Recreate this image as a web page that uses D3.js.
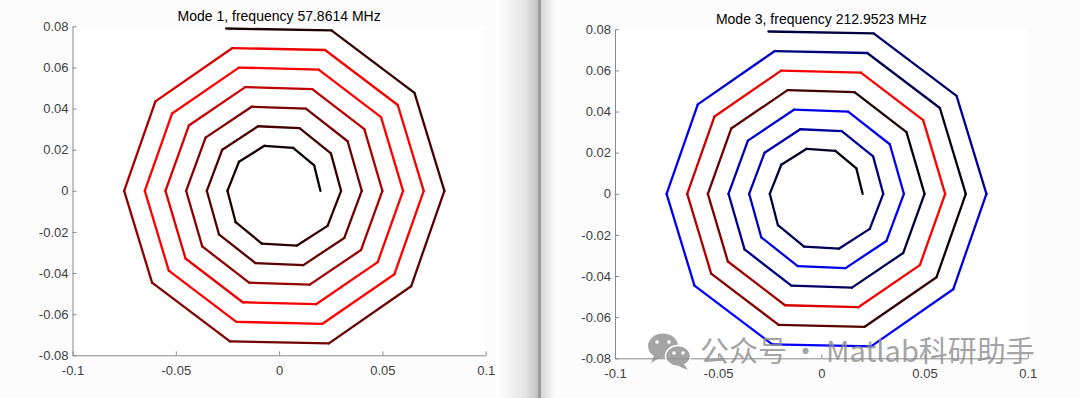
<!DOCTYPE html>
<html>
<head>
<meta charset="utf-8">
<script src="https://cdn.jsdelivr.net/npm/d3@7"></script>
<style>
  body { margin: 0; background: #fcfcfc; }
  svg { display: block; font-family: "Liberation Sans", Arial, sans-serif; }
  .tick text { fill: #3c3c3c; font-size: 13px; }
  .domain, .tick line { stroke: #8a8a8a; }
  .title { font-size: 14px; fill: #000; }
</style>
</head>
<body>
<svg width="1080" height="398"></svg>
<script>
var width = 1080;
var height = 398;

// chart data
var titles = ["Mode 1, frequency 57.8614 MHz", "Mode 3, frequency 212.9523 MHz"];

// current along the winding, one value per segment, inner end first (+ red, - blue)
var mode1Current = [
  .02, .04, .06, .08, .10, .12, .14, .16, .18, .20,
  .22, .25, .27, .29, .31, .33, .35, .37, .39, .41,
  .44, .47, .49, .51, .53, .55, .57, .59, .62, .65,
  .68, .72, .76, .80, .85, .89, .93, .96, .98, 1,
  1, 1, 1, 1, 1, 1, 1, 1, 1, 1,
  .98, .96, .93, .84, .66, .57, .50, .45, .40, .35,
  .28, .20, .12];

var mode3Current = [
  -.03, -.07, -.12, -.17, -.22, -.27, -.31, -.35, -.40, -.45,
  -.50, -.56, -.62, -.68, -.74, -.80, -.85, -.90, -.94, -.97,
  -.97, -.95, -.90, -.82, -.70, -.58, -.50, -.40, -.32, -.22,
  -.05, .10, .25, .35, .42, .50, .65, .85, .95, 1,
  1, 1, .98, .92, .80, .70, .52, .35, .20, .05,
  -.10, -.30, -.50, -.80, -.95, -.98, -1, -1, -.95, -.85,
  -.60, -.40, -.25];

var xTicks = [-0.1, -0.05, 0, 0.05, 0.1];
var xTickLabels = ["-0.1", "-0.05", "0", "0.05", "0.1"];
var yTicks = [-0.08, -0.06, -0.04, -0.02, 0, 0.02, 0.04, 0.06, 0.08];
var yTickLabels = ["-0.08", "-0.06", "-0.04", "-0.02", "0", "0.02", "0.04", "0.06", "0.08"];

// winding layout: decagon spiral
var sides = 10;
var innerRadius = 0.02;
var pitch = 0.01;   // radius gain per turn
var segments = mode1Current.length;

var svg = d3.select("svg");

// window edge between the two figures
var defs = svg.append("defs");
var g1 = defs.append("linearGradient").attr("id", "edgeL");
g1.append("stop").attr("offset", "0%").attr("stop-color", "#ffffff");
g1.append("stop").attr("offset", "70%").attr("stop-color", "#e4e4e4");
g1.append("stop").attr("offset", "100%").attr("stop-color", "#c2c2c2");
var g2 = defs.append("linearGradient").attr("id", "edgeR");
g2.append("stop").attr("offset", "0%").attr("stop-color", "#d6d6d6");
g2.append("stop").attr("offset", "100%").attr("stop-color", "#fcfcfc");

svg.append("rect").attr("x", 496).attr("y", 0).attr("width", 42).attr("height", height).attr("fill", "url(#edgeL)");
svg.append("rect").attr("x", 538).attr("y", 0).attr("width", 3).attr("height", height).attr("fill", "#9c9c9c");
svg.append("rect").attr("x", 541).attr("y", 0).attr("width", 14).attr("height", height).attr("fill", "url(#edgeR)");

var color = d3.scaleLinear()
    .domain([-1, 0, 1])
    .range(["#0000ff", "#000000", "#ff0000"]);

var vertices = d3.range(segments + 1).map(function(k) {
  var a = 2 * Math.PI * k / sides;
  var r = innerRadius + pitch * k / sides;
  return [r * Math.cos(a), r * Math.sin(a)];
});

var panels = [
  {x0: 72.5, x1: 485.7, y0: 355.3, y1: 26.3, titleY: 21, current: mode1Current},
  {x0: 615, x1: 1027.7, y0: 358.3, y1: 29.3, titleY: 24, current: mode3Current}
];

panels.forEach(function(p, i) {
  var x = d3.scaleLinear().domain([-0.1, 0.1]).range([p.x0, p.x1]);
  var y = d3.scaleLinear().domain([-0.08, 0.08]).range([p.y0, p.y1]);

  var g = svg.append("g");

  g.append("rect")
      .attr("x", p.x0).attr("y", p.y1)
      .attr("width", p.x1 - p.x0).attr("height", p.y0 - p.y1)
      .attr("fill", "#fff");

  g.append("g")
      .attr("transform", "translate(0," + p.y0 + ")")
      .call(d3.axisBottom(x).tickValues(xTicks)
        .tickFormat(function(d, j) { return xTickLabels[j]; })
        .tickSizeInner(-4).tickSizeOuter(0).tickPadding(10));

  g.append("g")
      .attr("transform", "translate(" + p.x0 + ",0)")
      .call(d3.axisLeft(y).tickValues(yTicks)
        .tickFormat(function(d, j) { return yTickLabels[j]; })
        .tickSizeInner(-4).tickSizeOuter(0).tickPadding(4));

  g.selectAll(".tick text").attr("font-family", null).attr("font-size", null);

  g.selectAll(".seg")
      .data(p.current)
      .enter()
      .append("line")
      .attr("class", "seg")
      .attr("x1", function(d, k) { return x(vertices[k][0]); })
      .attr("y1", function(d, k) { return y(vertices[k][1]); })
      .attr("x2", function(d, k) { return x(vertices[k + 1][0]); })
      .attr("y2", function(d, k) { return y(vertices[k + 1][1]); })
      .attr("stroke", function(d) { return color(d); })
      .attr("stroke-width", 2.3)
      .attr("stroke-linecap", "round");

  g.append("text")
      .attr("class", "title")
      .attr("x", (p.x0 + p.x1) / 2)
      .attr("y", p.titleY)
      .attr("text-anchor", "middle")
      .text(titles[i]);
});

// watermark
var wm = svg.append("g").attr("opacity", 0.8).attr("fill", "#8e8e8e");
wm.append("ellipse").attr("cx", 663).attr("cy", 346).attr("rx", 15).attr("ry", 12.5);
wm.append("path").attr("d", "M654,355 L651,363 L661,357 Z");
wm.append("ellipse").attr("cx", 678).attr("cy", 356).attr("rx", 12.5).attr("ry", 10.5).attr("stroke", "#fff").attr("stroke-width", 1.5);
wm.append("path").attr("d", "M684,364 L688,370 L678,366 Z");
[[657, 342], [669, 342], [674, 353], [683, 353]].forEach(function(e) {
  wm.append("circle").attr("cx", e[0]).attr("cy", e[1]).attr("r", 1.8).attr("fill", "#fff");
});
wm.append("text").attr("x", 700).attr("y", 362).attr("font-size", 29)
    .attr("font-family", "Noto Sans CJK SC").text("公众号");
wm.append("text").attr("x", 791).attr("y", 362).attr("font-size", 29)
    .attr("font-family", "Noto Sans CJK SC").text("·");
wm.append("text").attr("x", 826).attr("y", 362).attr("font-size", 29)
    .attr("font-family", "Noto Sans CJK SC").text("Matlab科研助手");
</script>
</body>
</html>
